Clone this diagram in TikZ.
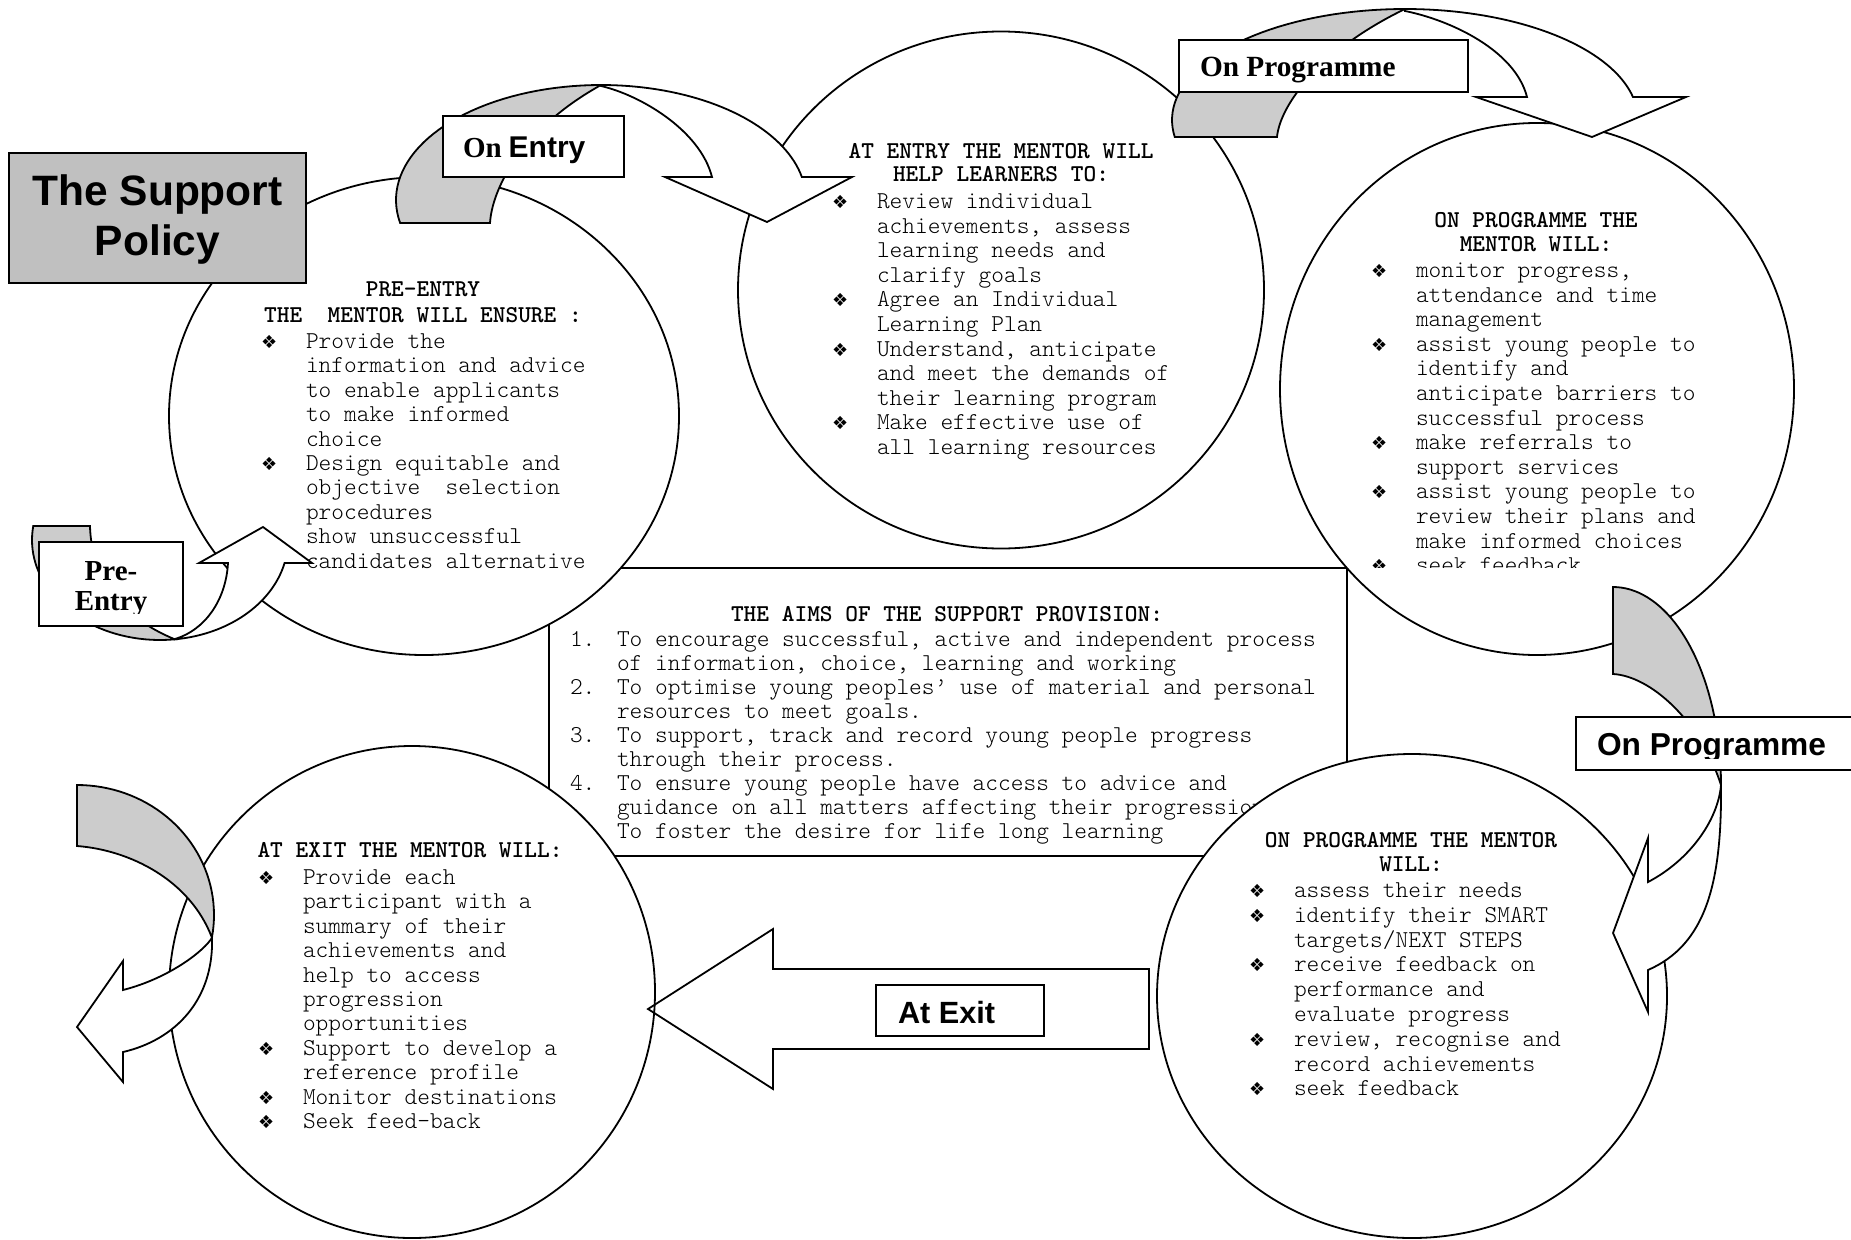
\documentclass[tikz,border=0pt]{standalone}
\usepackage{fontspec}
\usetikzlibrary{shapes.geometric}
\setmainfont{Liberation Serif}
\newfontfamily\arialf{Liberation Sans}
\newfontfamily\timesf{Liberation Serif}
\newfontfamily\dingf{DejaVu Sans}
\newcommand{\monof}{\ttfamily\fontseries{l}\selectfont}
\newcommand{\monob}{\ttfamily\bfseries}
\definecolor{arrowgray}{RGB}{204,204,204}
\definecolor{titlegray}{RGB}{192,192,192}
\newcommand{\bul}{\makebox[45pt][l]{\dingf\fontsize{18}{18}\selectfont ❖}}
\newcommand{\ind}{\hspace*{45pt}}
\newcommand{\numb}[1]{\makebox[47pt][l]{#1}}
\newcommand{\nind}{\hspace*{47pt}}
\newcommand{\blk}[2]{\parbox[t]{820pt}{\monof\fontsize{24.2}{#1}\selectfont\raggedright #2}}
\tikzset{
  every node/.style={inner sep=0pt, outer sep=0pt},
  ring/.style={ellipse, draw=black, fill=white, line width=1.8pt},
  grayband/.style={fill=arrowgray, draw=black, line width=1.8pt},
  whiteband/.style={fill=white, draw=black, line width=1.8pt},
  lblbox/.style={draw=black, fill=white, line width=2pt, anchor=north west},
  headtxt/.style={anchor=base, font=\monob\fontsize{24.2}{24.5}\selectfont},
  blocktxt/.style={anchor=base west},
}
\begin{document}
\begin{tikzpicture}[x=1pt,y=-1pt]
\useasboundingbox (0,0) rectangle (1851,1239);
\fill[white] (0,0) rectangle (1851,1239);

% ---------- aims box ----------
\node[draw=black, fill=white, line width=2pt, anchor=north west, minimum width=798pt, minimum height=288pt] (aimsbox) at (549,568) {};
\node[headtxt] (aimshead) at (947,621) {THE AIMS OF THE SUPPORT PROVISION:};
\node[blocktxt] (aimstext) at (570,646) {\blk{24.1}{%
\numb{1.}To encourage successful, active and independent process\\
\nind of information, choice, learning and working\\
\numb{2.}To optimise young peoples’ use of material and personal\\
\nind resources to meet goals.\\
\numb{3.}To support, track and record young people progress\\
\nind through their process.\\
\numb{4.}To ensure young people have access to advice and\\
\nind guidance on all matters affecting their progression\\
\nind To foster the desire for life long learning}};

% ---------- circles ----------
\node[ring, minimum width=510pt, minimum height=478pt] (preC) at (424,416) {};
\node[headtxt] (prehead1) at (423,296) {PRE-ENTRY};
\node[headtxt] (prehead2) at (423,322) {THE\ \ MENTOR WILL ENSURE :};
\node[blocktxt] (pretext) at (261,348.5) {\blk{24.4}{%
\bul Provide the\\
\ind information and advice\\
\ind to enable applicants\\
\ind to make informed\\
\ind choice\\
\bul Design equitable and\\
\ind objective\ \ selection\\
\ind procedures\\
\ind show unsuccessful\\
\ind candidates alternative}};

\node[ring, minimum width=526pt, minimum height=517pt] (entryC) at (1001,290) {};
\node[headtxt] (entryhead1) at (1001,158) {AT ENTRY THE MENTOR WILL};
\node[headtxt] (entryhead2) at (1001,181.5) {HELP LEARNERS TO:};
\node[blocktxt] (entrytext) at (832,208.5) {\blk{24.6}{%
\bul Review individual\\
\ind achievements, assess\\
\ind learning needs and\\
\ind clarify goals\\
\bul Agree an Individual\\
\ind Learning Plan\\
\bul Understand, anticipate\\
\ind and meet the demands of\\
\ind their learning program\\
\bul Make effective use of\\
\ind all learning resources}};

\node[ring, minimum width=514pt, minimum height=532pt] (progC) at (1537,389) {};
\node[headtxt] (proghead1) at (1536,227.5) {ON PROGRAMME THE};
\node[headtxt] (proghead2) at (1536,251.3) {MENTOR WILL:};
\begin{scope}
\clip (1300,255) rectangle (1800,567);
\node[blocktxt] (progtext) at (1371,277.5) {\blk{24.6}{%
\bul monitor progress,\\
\ind attendance and time\\
\ind management\\
\bul assist young people to\\
\ind identify and\\
\ind anticipate barriers to\\
\ind successful process\\
\bul make referrals to\\
\ind support services\\
\bul assist young people to\\
\ind review their plans and\\
\ind make informed choices\\
\bul seek feedback}};
\end{scope}

\node[ring, minimum width=510pt, minimum height=484pt] (prog2C) at (1412,996) {};
\node[headtxt] (prog2head1) at (1411,847.4) {ON PROGRAMME THE MENTOR};
\node[headtxt] (prog2head2) at (1411,871) {WILL:};
\node[blocktxt] (prog2text) at (1249,897.5) {\blk{24.8}{%
\bul assess their needs\\
\bul identify their SMART\\
\ind targets/NEXT STEPS\\
\bul receive feedback on\\
\ind performance and\\
\ind evaluate progress\\
\bul review, recognise and\\
\ind record achievements\\
\bul seek feedback}};

\node[ring, minimum width=486pt, minimum height=492pt] (exitC) at (412,992) {};
\node[headtxt] (exithead) at (410,857) {AT EXIT THE MENTOR WILL:};
\node[blocktxt] (exittext) at (258,884.5) {\blk{24.4}{%
\bul Provide each\\
\ind participant with a\\
\ind summary of their\\
\ind achievements and\\
\ind help to access\\
\ind progression\\
\ind opportunities\\
\bul Support to develop a\\
\ind reference profile\\
\bul Monitor destinations\\
\bul Seek feed-back}};

% ---------- curved arrow: On Entry ----------
\path[grayband] plot[domain=191.5:90,samples=40] ({601+205*cos(\x)},{200-115*sin(\x)})
  .. controls (520,130) and (492,190) .. (490,223) -- cycle;
\path[whiteband] plot[domain=90:11.5,samples=40] ({601+205*cos(\x)},{200-115*sin(\x)})
  -- (852,177) -- (767,222) -- (665,177) -- (712,177)
  .. controls (700,130) and (640,95) .. (601,86) -- cycle;

% ---------- curved arrow: On Programme (top) ----------
\path[grayband] plot[domain=188.8:90,samples=40] ({1405+233*cos(\x)},{120-111*sin(\x)})
  .. controls (1320,50) and (1280,105) .. (1277,137) -- cycle;
\path[whiteband] plot[domain=90:12,samples=40] ({1405+233*cos(\x)},{120-111*sin(\x)})
  -- (1686,97) -- (1592,137) -- (1476,97) -- (1527,97)
  .. controls (1515,50) and (1450,20) .. (1405,11) -- cycle;

% ---------- curved arrow: Pre-Entry ----------
\path[grayband] plot[domain=172:276.7,samples=40] ({160+128*cos(\x)},{540-100*sin(\x)})
  .. controls (115,615) and (91,570) .. (90,526) -- cycle;
\path[whiteband] plot[domain=276.7:346.7,samples=40] ({160+128*cos(\x)},{540-100*sin(\x)})
  -- (312,563) -- (263,527) -- (199,563) -- (228,563)
  .. controls (226,600) and (205,630) .. (175,639) -- cycle;

% ---------- curved arrow: On Programme (right) ----------
\path[grayband] plot[domain=90:0,samples=40] ({1613+108*cos(\x)},{785-198*sin(\x)})
  .. controls (1700,720) and (1650,676) .. (1613,674) -- cycle;
\path[whiteband] (1721,785) .. controls (1722,885) and (1705,945) .. (1648,970)
  -- (1648,1012) -- (1613,933) -- (1648,838) -- (1648,882)
  .. controls (1690,860) and (1718,820) .. (1721,785) -- cycle;

% ---------- curved arrow: left (after exit) ----------
\path[grayband] plot[domain=90:-10,samples=40] ({77+137*cos(\x)},{915-130*sin(\x)})
  .. controls (190,880) and (130,850) .. (77,846) -- cycle;
\path[whiteband] (212,937.6) .. controls (214,1000) and (175,1040) .. (123,1052)
  -- (123,1082) -- (77,1027) -- (123,961) -- (123,990)
  .. controls (170,978) and (205,950) .. (212,937.6) -- cycle;

% ---------- straight arrow: At Exit ----------
\draw[line width=1.8pt] (1149,969) -- (773,969) -- (773,929) -- (648,1009)
  -- (773,1089) -- (773,1049) -- (1149,1049) -- cycle;

% ---------- label boxes ----------
\node[lblbox, minimum width=181pt, minimum height=61pt] (entrybox) at (443,116) {};
\node[anchor=base west] (entrylbl) at (463,157.5)
  {{\timesf\bfseries\fontsize{29}{30}\selectfont On}\hspace{7pt}{\arialf\bfseries\fontsize{30}{30}\selectfont Entry}};

\node[lblbox, minimum width=289pt, minimum height=52pt] (progbox) at (1179,40) {};
\node[anchor=base west, font=\timesf\bfseries\fontsize{29.3}{30}\selectfont] (proglbl) at (1200,77) {On Programme};

\node[lblbox, minimum width=144pt, minimum height=84pt] (prebox) at (39,542) {};
\begin{scope}
\clip (40,543) rectangle (182,613);
\node[anchor=base, font=\timesf\bfseries\fontsize{29}{30}\selectfont] (prelbl1) at (111,580) {Pre-};
\node[anchor=base, font=\timesf\bfseries\fontsize{29}{30}\selectfont] (prelbl2) at (111,610) {Entry};
\end{scope}

\node[lblbox, minimum width=290pt, minimum height=53pt] (prog2box) at (1576,717) {};
\begin{scope}
\clip (1577,718) rectangle (1851,758);
\node[anchor=base west, font=\arialf\bfseries\fontsize{31.7}{32}\selectfont] (prog2lbl) at (1597,755) {On Programme};
\end{scope}

\node[lblbox, minimum width=168pt, minimum height=51pt] (exitbox) at (876,985) {};
\node[anchor=base west, font=\arialf\bfseries\fontsize{30.7}{31}\selectfont] (exitlbl) at (898,1023) {At Exit};

% ---------- title ----------
\node[draw=black, fill=titlegray, line width=2pt, anchor=north west, minimum width=297pt, minimum height=130pt] (titlebox) at (9,153) {};
\node[anchor=base, font=\arialf\bfseries\fontsize{42.5}{50}\selectfont] (title1) at (157.5,205) {The Support};
\node[anchor=base, font=\arialf\bfseries\fontsize{42.5}{50}\selectfont] (title2) at (157.5,255) {Policy};
\end{tikzpicture}
\end{document}
